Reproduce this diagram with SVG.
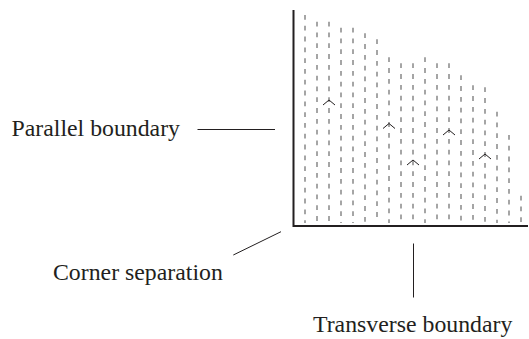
<svg xmlns="http://www.w3.org/2000/svg" width="529" height="339" viewBox="0 0 529 339">
<style>
.lbl{font-family:"Liberation Serif","Times New Roman",serif;font-size:23.8px;fill:#231f20}
.dash{stroke:#6a6a6a;stroke-width:1.2;stroke-dasharray:4.8 6;fill:none}
.axis{stroke:#231f20;stroke-width:2;fill:none}
.lead{stroke:#231f20;stroke-width:1;fill:none}
.chev{stroke:#231f20;stroke-width:1;fill:none}
</style>
<rect width="529" height="339" fill="#fff"/>
<g id="axes">
<path class="axis" d="M293.5 10 V226 H528"/>
</g>
<g id="flow-lines">
<path class="dash" d="M305 15V223"/>
<path class="dash" d="M317 21.7V223"/>
<path class="dash" d="M329 21.7V223"/>
<path class="dash" d="M341 27.7V223"/>
<path class="dash" d="M353 27.7V223"/>
<path class="dash" d="M365 33.3V223"/>
<path class="dash" d="M377 39.3V223"/>
<path class="dash" d="M389 57.3V223"/>
<path class="dash" d="M401 63.3V223"/>
<path class="dash" d="M413 63.3V223"/>
<path class="dash" d="M425 57.3V223"/>
<path class="dash" d="M437 63.3V223"/>
<path class="dash" d="M449 63.3V223"/>
<path class="dash" d="M461 75.3V223"/>
<path class="dash" d="M473 85.3V223"/>
<path class="dash" d="M485 87.3V223"/>
<path class="dash" d="M497 111.7V223"/>
<path class="dash" d="M509 135V223"/>
<path class="dash" d="M521 195.7V223"/>
</g>
<g id="chevrons">
<path class="chev" d="M323 105L329 100L335 105"/>
<path class="chev" d="M383 128.5L389 123.5L395 128.5"/>
<path class="chev" d="M407 165L413 160L419 165"/>
<path class="chev" d="M443 135L449 130L455 135"/>
<path class="chev" d="M479 159L485 154L491 159"/>
</g>
<g id="connectors">
<line class="lead" x1="197.5" y1="129.5" x2="275" y2="129.5"/>
<line class="lead" x1="281" y1="231.7" x2="233.3" y2="255"/>
<line class="lead" x1="413.5" y1="243.5" x2="413.5" y2="297.5"/>
</g>
<g id="parallel-boundary"><text class="lbl" x="11.5" y="136">Parallel boundary</text></g>
<g id="corner-separation"><text class="lbl" x="53" y="280">Corner separation</text></g>
<g id="transverse-boundary"><text class="lbl" x="313" y="332">Transverse boundary</text></g>
</svg>
